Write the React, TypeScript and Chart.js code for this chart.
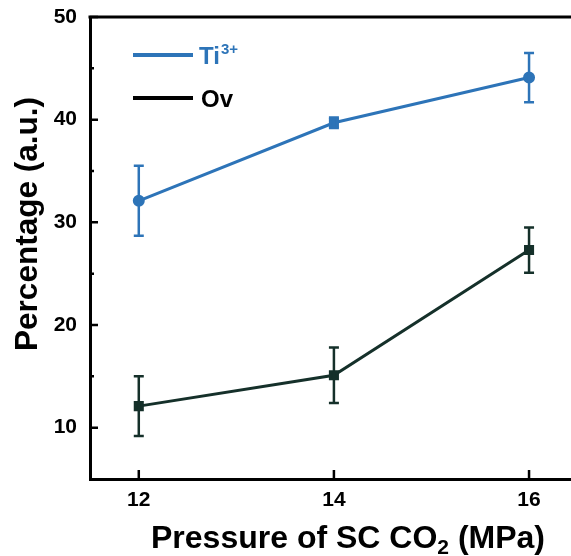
import React, { useEffect, useRef } from "react";
import { Chart, registerables } from "chart.js";

Chart.register(...registerables);

const pressures = [12, 14, 16];
const ti3Values = [32.1, 39.7, 44.1];
const ti3Errors = [3.4, 0.5, 2.4];
const ovValues = [12.1, 15.1, 27.3];
const ovErrors = [2.9, 2.7, 2.2];
const xTickValues = [12, 14, 16];
const yTickValues = [10, 20, 30, 40, 50];
const yMinorTicks = [15, 25, 35, 45];

const BLUE = "#2d74b8";
const DARK = "#15302a";
const FONT = "'Liberation Sans', Arial, sans-serif";

const errorBarPlugin = {
  id: "errorBars",
  afterDatasetsDraw(chart: any) {
    const { ctx } = chart;
    const xs = chart.scales.x;
    const ys = chart.scales.y;
    chart.data.datasets.forEach((ds: any) => {
      const errs: number[] = ds.errors || [];
      ctx.save();
      ctx.strokeStyle = ds.borderColor;
      ctx.lineWidth = 2.5;
      ds.data.forEach((pt: any, i: number) => {
        const e = errs[i];
        if (e == null) return;
        const px = xs.getPixelForValue(pt.x);
        const yt = ys.getPixelForValue(pt.y + e);
        const yb = ys.getPixelForValue(pt.y - e);
        ctx.beginPath();
        ctx.moveTo(px, yt);
        ctx.lineTo(px, yb);
        ctx.moveTo(px - 5, yt);
        ctx.lineTo(px + 5, yt);
        ctx.moveTo(px - 5, yb);
        ctx.lineTo(px + 5, yb);
        ctx.stroke();
      });
      ctx.restore();
    });
  },
};

const framePlugin = {
  id: "frame",
  afterDraw(chart: any) {
    const { ctx, chartArea } = chart;
    const xs = chart.scales.x;
    const ys = chart.scales.y;
    ctx.save();
    ctx.strokeStyle = "#000";
    // top border
    ctx.lineWidth = 3;
    ctx.beginPath();
    ctx.moveTo(chartArea.left - 1.5, chartArea.top);
    ctx.lineTo(chart.width, chartArea.top);
    ctx.stroke();
    // inward ticks
    ctx.lineWidth = 2.5;
    ctx.beginPath();
    yTickValues.forEach((v) => {
      const py = ys.getPixelForValue(v);
      ctx.moveTo(chartArea.left, py);
      ctx.lineTo(chartArea.left + 8, py);
    });
    yMinorTicks.forEach((v) => {
      const py = ys.getPixelForValue(v);
      ctx.moveTo(chartArea.left, py);
      ctx.lineTo(chartArea.left + 4, py);
    });
    xTickValues.forEach((v) => {
      const px = xs.getPixelForValue(v);
      ctx.moveTo(px, chartArea.bottom);
      ctx.lineTo(px, chartArea.bottom - 9);
    });
    ctx.stroke();

    // legend
    ctx.lineWidth = 4;
    ctx.strokeStyle = BLUE;
    ctx.beginPath();
    ctx.moveTo(133, 55);
    ctx.lineTo(193, 55);
    ctx.stroke();
    ctx.strokeStyle = "#000";
    ctx.beginPath();
    ctx.moveTo(133, 98);
    ctx.lineTo(193, 98);
    ctx.stroke();
    ctx.textBaseline = "alphabetic";
    ctx.textAlign = "left";
    ctx.fillStyle = BLUE;
    ctx.font = `bold 24px ${FONT}`;
    ctx.fillText("Ti", 199, 64);
    const tiW = ctx.measureText("Ti").width;
    ctx.font = `bold 15px ${FONT}`;
    ctx.fillText("3+", 199 + tiW + 1, 54);
    ctx.fillStyle = "#000";
    ctx.font = `bold 24px ${FONT}`;
    ctx.fillText("Ov", 201, 107);

    // y title
    ctx.save();
    ctx.translate(28, 224);
    ctx.rotate(-Math.PI / 2);
    ctx.textAlign = "center";
    ctx.textBaseline = "middle";
    ctx.font = `bold 31.5px ${FONT}`;
    ctx.fillText("Percentage (a.u.)", 0, 0);
    ctx.restore();

    // x title with subscript
    const big = `bold 32px ${FONT}`;
    const small = `bold 21px ${FONT}`;
    const p1 = "Pressure of SC CO";
    const p2 = "2";
    const p3 = " (MPa)";
    ctx.font = big;
    const w1 = ctx.measureText(p1).width;
    const w3 = ctx.measureText(p3).width;
    ctx.font = small;
    const w2 = ctx.measureText(p2).width;
    const total = w1 + w2 + w3;
    const x0 = 348 - total / 2;
    const base = 548;
    ctx.textAlign = "left";
    ctx.textBaseline = "alphabetic";
    ctx.font = big;
    ctx.fillText(p1, x0, base);
    ctx.font = small;
    ctx.fillText(p2, x0 + w1, base + 6);
    ctx.font = big;
    ctx.fillText(p3, x0 + w1 + w2, base);
    ctx.restore();
  },
};

export default function App() {
  const ref = useRef<HTMLCanvasElement | null>(null);
  useEffect(() => {
    if (!ref.current) return;
    const chart = new Chart(ref.current, {
      type: "line",
      data: {
        datasets: [
          {
            label: "Ti3+",
            data: pressures.map((p, i) => ({ x: p, y: ti3Values[i] })),
            errors: ti3Errors,
            borderColor: BLUE,
            backgroundColor: BLUE,
            borderWidth: 3,
            pointStyle: ["circle", "rect", "circle"],
            pointRadius: [4.5, 5, 4.5],
            tension: 0,
          } as any,
          {
            label: "Ov",
            data: pressures.map((p, i) => ({ x: p, y: ovValues[i] })),
            errors: ovErrors,
            borderColor: DARK,
            backgroundColor: DARK,
            borderWidth: 3,
            pointStyle: "rect",
            pointRadius: 5,
            tension: 0,
          } as any,
        ],
      },
      options: {
        animation: false,
        responsive: false,
        layout: { autoPadding: false, padding: { top: 17, right: 0, left: 0, bottom: 0 } },
        plugins: { legend: { display: false }, tooltip: { enabled: false } },
        scales: {
          x: {
            type: "linear",
            min: 11.5,
            max: 16.43,
            afterBuildTicks: (s: any) => {
              s.ticks = xTickValues.map((v) => ({ value: v }));
            },
            afterFit: (s: any) => {
              s.height = 77;
              s.paddingLeft = 0;
              s.paddingRight = 0;
            },
            grid: { display: false, drawTicks: false },
            border: { display: true, color: "#000", width: 3 },
            ticks: {
              padding: 9,
              color: "#000",
              font: { family: FONT, size: 21, weight: "bold" },
            },
          },
          y: {
            type: "linear",
            min: 5,
            max: 50,
            afterBuildTicks: (s: any) => {
              s.ticks = yTickValues.map((v) => ({ value: v }));
            },
            afterFit: (s: any) => {
              s.width = 90;
              s.paddingTop = 0;
              s.paddingBottom = 0;
            },
            grid: { display: false, drawTicks: false },
            border: { display: true, color: "#000", width: 3 },
            ticks: {
              padding: 13,
              color: "#000",
              font: { family: FONT, size: 21, weight: "bold" },
            },
          },
        },
      } as any,
      plugins: [errorBarPlugin, framePlugin],
    });
    return () => chart.destroy();
  }, []);
  return (
    <div style={{ position: "absolute", left: 0, top: 0, width: 571, height: 556, background: "#fff" }}>
      <canvas ref={ref} width={571} height={556} style={{ display: "block" }} />
    </div>
  );
}
